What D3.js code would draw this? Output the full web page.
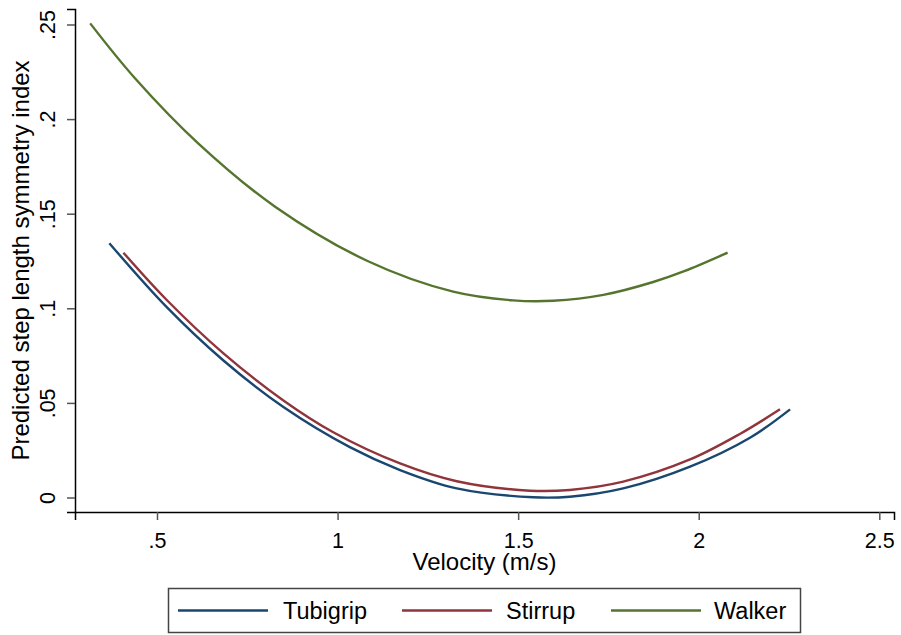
<!DOCTYPE html>
<html>
<head>
<meta charset="utf-8">
<script src="https://cdn.jsdelivr.net/npm/d3@7"></script>
<style>
  html, body { margin: 0; padding: 0; background: #fff; }
  svg { display: block; }
  text { font-family: "Liberation Sans", Arial, Helvetica, sans-serif; fill: #000; }
</style>
</head>
<body>
<svg id="chart" width="901" height="635"></svg>
<script>
// ---- data ----
const seriesNames = ["Tubigrip", "Stirrup", "Walker"];
const seriesColors = ["#1a476f", "#90353b", "#55752f"];

const tubigripX = [0.368, 0.527, 0.684, 0.850, 1.034, 1.173, 1.330, 1.542, 1.643, 1.791, 1.976, 2.142, 2.253];
const tubigripY = [0.1344, 0.1006, 0.0724, 0.0478, 0.0266, 0.0145, 0.0048, 0.0001, 0.0004, 0.0048, 0.0163, 0.0316, 0.0466];

const stirrupX = [0.407, 0.527, 0.684, 0.850, 0.988, 1.173, 1.330, 1.533, 1.643, 1.791, 1.976, 2.114, 2.225];
const stirrupY = [0.1294, 0.1044, 0.0762, 0.0513, 0.0345, 0.0180, 0.0086, 0.0036, 0.0040, 0.0084, 0.0201, 0.0336, 0.0466];

const walkerX = [0.315, 0.439, 0.614, 0.827, 1.083, 1.320, 1.486, 1.597, 1.736, 1.874, 1.960, 2.080];
const walkerY = [0.2506, 0.2216, 0.1872, 0.1537, 0.1250, 0.1088, 0.1042, 0.1040, 0.1071, 0.1139, 0.1196, 0.1294];

const xTicks = [0.5, 1, 1.5, 2, 2.5];
const xTickLabels = [".5", "1", "1.5", "2", "2.5"];
const yTicks = [0, 0.05, 0.1, 0.15, 0.2, 0.25];
const yTickLabels = ["0", ".05", ".1", ".15", ".2", ".25"];

const xTitle = "Velocity (m/s)";
const yTitle = "Predicted step length symmetry index";

// ---- layout ----
const plotLeft = 75, plotRight = 894, plotTop = 9, plotBottom = 512;

const x0 = d3.scaleLinear().domain([0.5, 2.5]).range([157, 879.3]);
const x = d3.scaleLinear().domain([x0.invert(plotLeft), x0.invert(plotRight)]).range([plotLeft, plotRight]);
const y0 = d3.scaleLinear().domain([0, 0.25]).range([497.5, 24.5]);
const y = d3.scaleLinear().domain([y0.invert(plotBottom), y0.invert(plotTop)]).range([plotBottom, plotTop]);

const svg = d3.select("#chart");
svg.append("rect").attr("width", 901).attr("height", 635).attr("fill", "#fff");

// x axis
const xAxis = svg.append("g")
  .attr("transform", `translate(0,${plotBottom})`)
  .call(d3.axisBottom(x).tickValues(xTicks).tickFormat((d, i) => xTickLabels[i]).tickSizeOuter(0).tickSize(8));
xAxis.select(".domain").attr("stroke", "#000").attr("stroke-width", 1.5);
xAxis.selectAll(".tick line").attr("stroke", "#555").attr("stroke-width", 1.5);
xAxis.selectAll(".tick text")
  .attr("y", 35.5).attr("dy", null)
  .style("font-size", "21.5px")
  .style("font-family", '"Liberation Sans", Arial, sans-serif')
  .attr("fill", "#000");

// y axis
const yAxis = svg.append("g")
  .attr("transform", `translate(${plotLeft},0)`)
  .call(d3.axisLeft(y).tickValues(yTicks).tickFormat((d, i) => yTickLabels[i]).tickSizeOuter(0).tickSize(8));
yAxis.select(".domain").attr("stroke", "#000").attr("stroke-width", 1.5);
yAxis.selectAll(".tick line").attr("stroke", "#555").attr("stroke-width", 1.5);
yAxis.selectAll(".tick text")
  .attr("x", null).attr("dy", null)
  .attr("text-anchor", "middle")
  .attr("transform", "translate(-20,0) rotate(-90)")
  .style("font-size", "21.5px")
  .style("font-family", '"Liberation Sans", Arial, sans-serif')
  .attr("fill", "#000");

// axis titles
svg.append("text")
  .attr("x", (plotLeft + plotRight) / 2).attr("y", 570)
  .attr("text-anchor", "middle")
  .style("font-size", "24px")
  .text(xTitle);

svg.append("text")
  .attr("transform", `translate(28.5,${(plotTop + plotBottom) / 2}) rotate(-90)`)
  .attr("text-anchor", "middle")
  .style("font-size", "24px")
  .text(yTitle);

// lines
const seriesData = [
  tubigripX.map((v, i) => [v, tubigripY[i]]),
  stirrupX.map((v, i) => [v, stirrupY[i]]),
  walkerX.map((v, i) => [v, walkerY[i]])
];
const line = d3.line().x(d => x(d[0])).y(d => y(d[1])).curve(d3.curveCatmullRom.alpha(0.5));

svg.append("g").selectAll("path")
  .data(seriesData)
  .join("path")
  .attr("d", line)
  .attr("fill", "none")
  .attr("stroke", (d, i) => seriesColors[i])
  .attr("stroke-width", 2.4)
  .attr("stroke-linejoin", "round");

// legend
const legend = svg.append("g");
legend.append("rect")
  .attr("x", 168.5).attr("y", 588.5).attr("width", 632).attr("height", 44)
  .attr("fill", "#fff").attr("stroke", "#444").attr("stroke-width", 1.5);

const legendLineX = [178, 402, 611];
const legendTextX = [283, 506, 714];
seriesNames.forEach((name, i) => {
  legend.append("line")
    .attr("x1", legendLineX[i]).attr("x2", legendLineX[i] + 90)
    .attr("y1", 610.5).attr("y2", 610.5)
    .attr("stroke", seriesColors[i]).attr("stroke-width", 2.4);
  legend.append("text")
    .attr("x", legendTextX[i]).attr("y", 619)
    .style("font-size", "23.5px")
    .text(name);
});
</script>
</body>
</html>
